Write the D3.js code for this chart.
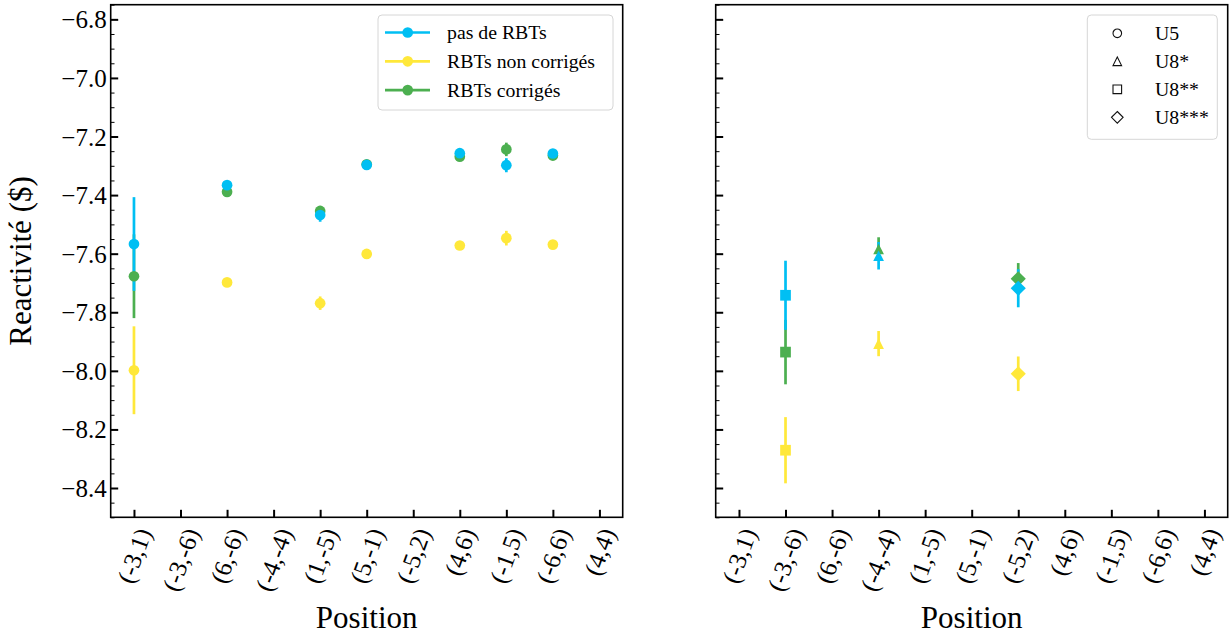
<!DOCTYPE html>
<html><head><meta charset="utf-8">
<script src="https://cdn.jsdelivr.net/npm/d3@7"></script>
<style>
body{margin:0;background:#fff;}
svg{display:block;}
</style>
</head><body>
<svg id="c" width="1230" height="634" font-family="Liberation Serif"></svg>
<script>
// ---- data ----
const positions = ["(-3,1)","(-3,-6)","(6,-6)","(-4,-4)","(1,-5)","(5,-1)","(-5,2)","(4,6)","(-1,5)","(-6,6)","(4,4)"];
const yTicks = [-8.4,-8.2,-8.0,-7.8,-7.6,-7.4,-7.2,-7.0,-6.8];
const yMinorTicks = d3.range(-8.5, -6.74, 0.05).map(v => +v.toFixed(2));
const seriesNames = ["pas de RBTs","RBTs non corrigés","RBTs corrigés"];
const seriesColors = ["#00bff3","#ffe83a","#4caf50"];

// Left panel: U5 (circles)
const u5Index = [0,2,4,5,7,8,9];
const u5Pas    = [-7.567,-7.366,-7.468,-7.297,-7.257,-7.298,-7.258];
const u5PasErr = [0.160,0.008,0.023,0.008,0.008,0.024,0.008];
const u5Non    = [-7.998,-7.698,-7.769,-7.601,-7.572,-7.547,-7.569];
const u5NonErr = [0.150,0.008,0.023,0.008,0.008,0.025,0.008];
const u5Cor    = [-7.677,-7.389,-7.454,-7.295,-7.269,-7.244,-7.265];
const u5CorErr = [0.143,0.008,0.017,0.008,0.008,0.023,0.008];

// Right panel: U8 variants
const u8Index  = [1,3,6];
const u8Shapes = ["square","triangle","diamond"];
const u8Pas    = [-7.742,-7.607,-7.718];
const u8PasErr = [0.118,0.047,0.065];
const u8Non    = [-8.271,-7.907,-8.010];
const u8NonErr = [0.113,0.043,0.059];
const u8Cor    = [-7.936,-7.584,-7.686];
const u8CorErr = [0.110,0.040,0.054];

const shapeLegendNames  = ["U5","U8*","U8**","U8***"];
const shapeLegendShapes = ["circle","triangle","square","diamond"];

// ---- layout ----
const FONT = "Liberation Serif";
const svg = d3.select("#c");
const plotTop = 4.7, plotBottom = 517.3;
const panels = [{x0:110.7, x1:622.7}, {x0:715.7, x1:1227.7}];
const y = d3.scaleLinear().domain([-8.5,-6.75]).range([plotBottom, plotTop]);
const xs = panels.map(p => d3.scaleLinear().domain([-0.5,10.5]).range([p.x0, p.x1]));

function shapePath(shape, s){
  const h = s/2;
  if(shape === "circle") return d3.symbol(d3.symbolCircle, Math.PI*h*h)();
  if(shape === "square") return `M${-h},${-h}H${h}V${h}H${-h}Z`;
  if(shape === "triangle") return `M0,${-h}L${h},${h}L${-h},${h}Z`;
  if(shape === "diamond"){ const d = s/Math.SQRT2; return `M0,${-d}L${d},0L0,${d}L${-d},0Z`; }
}

const sin70 = Math.sin(70*Math.PI/180), cos70 = Math.cos(70*Math.PI/180);
const tickFs = 25;

panels.forEach((p, pi) => {
  const x = xs[pi];
  const g = svg.append("g");
  // minor y ticks
  const yMinor = g.append("g").attr("transform",`translate(${p.x0},0)`)
    .call(d3.axisLeft(y).tickValues(yMinorTicks.filter(v => !yTicks.some(t => Math.abs(t-v)<1e-6))).tickSize(-3.8).tickFormat(""));
  yMinor.select(".domain").remove();
  yMinor.selectAll("line").attr("stroke","#000").attr("stroke-width",1);
  // major y ticks
  const yAx = g.append("g").attr("transform",`translate(${p.x0},0)`)
    .call(d3.axisLeft(y).tickValues(yTicks).tickSize(-7.5).tickPadding(4).tickFormat(pi===0 ? d3.format(".1f") : ""));
  yAx.attr("font-family",FONT);
  yAx.select(".domain").remove();
  yAx.selectAll("line").attr("stroke","#000").attr("stroke-width",2);
  yAx.selectAll("text").attr("font-size",tickFs).attr("font-family",FONT).attr("dy","0.34em");
  // x ticks
  const xAx = g.append("g").attr("transform",`translate(0,${plotBottom})`)
    .call(d3.axisBottom(x).tickValues(d3.range(positions.length)).tickSize(-7.5).tickFormat(i => positions[i]));
  xAx.attr("font-family",FONT);
  xAx.select(".domain").remove();
  xAx.selectAll("line").attr("stroke","#000").attr("stroke-width",2);
  xAx.selectAll("text")
    .attr("font-size",tickFs).attr("font-family",FONT)
    .attr("text-anchor","middle").attr("dy",null).attr("y",null)
    .attr("dominant-baseline","central")
    .attr("transform", function(){
      const L = this.getComputedTextLength();
      const H = L*sin70 + tickFs*0.95*cos70;
      return `translate(0,${8 + H/2}) rotate(-70)`;
    });
  // frame
  g.append("rect").attr("x",p.x0).attr("y",plotTop).attr("width",p.x1-p.x0).attr("height",plotBottom-plotTop)
    .attr("fill","none").attr("stroke","#000").attr("stroke-width",1.6);
  // x label
  g.append("text").attr("x",(p.x0+p.x1)/2).attr("y",628).attr("text-anchor","middle")
    .attr("font-family",FONT).attr("font-size",31).text("Position");
});

// y label
svg.append("text").attr("transform",`translate(31,${(plotTop+plotBottom)/2}) rotate(-90)`)
  .attr("text-anchor","middle").attr("font-family",FONT).attr("font-size",31).text("Reactivité ($)");

// ---- data marks ----
const drawOrder = [2,1,0]; // corrigés, non corrigés, pas de RBTs (blue on top)
const u5Vals = [u5Pas,u5Non,u5Cor], u5Errs = [u5PasErr,u5NonErr,u5CorErr];
const u8Vals = [u8Pas,u8Non,u8Cor], u8Errs = [u8PasErr,u8NonErr,u8CorErr];
const marks = svg.append("g");
const barsG = marks.append("g"), ptsG = marks.append("g");

drawOrder.forEach(si => {
  const col = seriesColors[si];
  // left
  barsG.append("g").selectAll("line").data(u5Index).join("line")
    .attr("x1",(d)=>xs[0](d)).attr("x2",(d)=>xs[0](d))
    .attr("y1",(d,i)=>y(u5Vals[si][i]-u5Errs[si][i]))
    .attr("y2",(d,i)=>y(u5Vals[si][i]+u5Errs[si][i]))
    .attr("stroke",col).attr("stroke-width",2.7);
  ptsG.append("g").selectAll("path").data(u5Index).join("path")
    .attr("transform",(d,i)=>`translate(${xs[0](d)},${y(u5Vals[si][i])})`)
    .attr("d", shapePath("circle",10.7)).attr("fill",col);
  // right
  barsG.append("g").selectAll("line").data(u8Index).join("line")
    .attr("x1",(d)=>xs[1](d)).attr("x2",(d)=>xs[1](d))
    .attr("y1",(d,i)=>y(u8Vals[si][i]-u8Errs[si][i]))
    .attr("y2",(d,i)=>y(u8Vals[si][i]+u8Errs[si][i]))
    .attr("stroke",col).attr("stroke-width",2.7);
  ptsG.append("g").selectAll("path").data(u8Index).join("path")
    .attr("transform",(d,i)=>`translate(${xs[1](d)},${y(u8Vals[si][i])})`)
    .attr("d",(d,i)=>shapePath(u8Shapes[i],10.7)).attr("fill",col);
});

// ---- legends ----
const legFs = 19.8;
const lg1 = svg.append("g");
lg1.append("rect").attr("x",378).attr("y",15).attr("width",235).attr("height",95).attr("rx",4)
  .attr("fill","#fff").attr("fill-opacity",0.8).attr("stroke","#d6d6d6").attr("stroke-width",1);
seriesNames.forEach((n,i) => {
  const cy = 32.5 + i*28.8;
  lg1.append("line").attr("x1",385).attr("x2",430).attr("y1",cy).attr("y2",cy)
    .attr("stroke",seriesColors[i]).attr("stroke-width",2.7);
  lg1.append("path").attr("transform",`translate(407.7,${cy})`).attr("d",shapePath("circle",10.7)).attr("fill",seriesColors[i]);
  lg1.append("text").attr("x",447).attr("y",cy).attr("dy","0.33em").attr("font-family",FONT).attr("font-size",legFs).text(n);
});

const lg2 = svg.append("g");
lg2.append("rect").attr("x",1087.3).attr("y",15).attr("width",130).attr("height",124.3).attr("rx",4)
  .attr("fill","#fff").attr("fill-opacity",0.8).attr("stroke","#d6d6d6").attr("stroke-width",1);
shapeLegendNames.forEach((n,i) => {
  const cy = 33.3 + i*28;
  lg2.append("path").attr("transform",`translate(1117.3,${cy})`)
    .attr("d",shapePath(shapeLegendShapes[i], shapeLegendShapes[i]==="diamond"?8.2:8.6))
    .attr("fill","none").attr("stroke","#111").attr("stroke-width",1.1);
  lg2.append("text").attr("x",1155).attr("y",cy).attr("dy","0.33em").attr("font-family",FONT).attr("font-size",legFs).text(n);
});
</script>
</body></html>
